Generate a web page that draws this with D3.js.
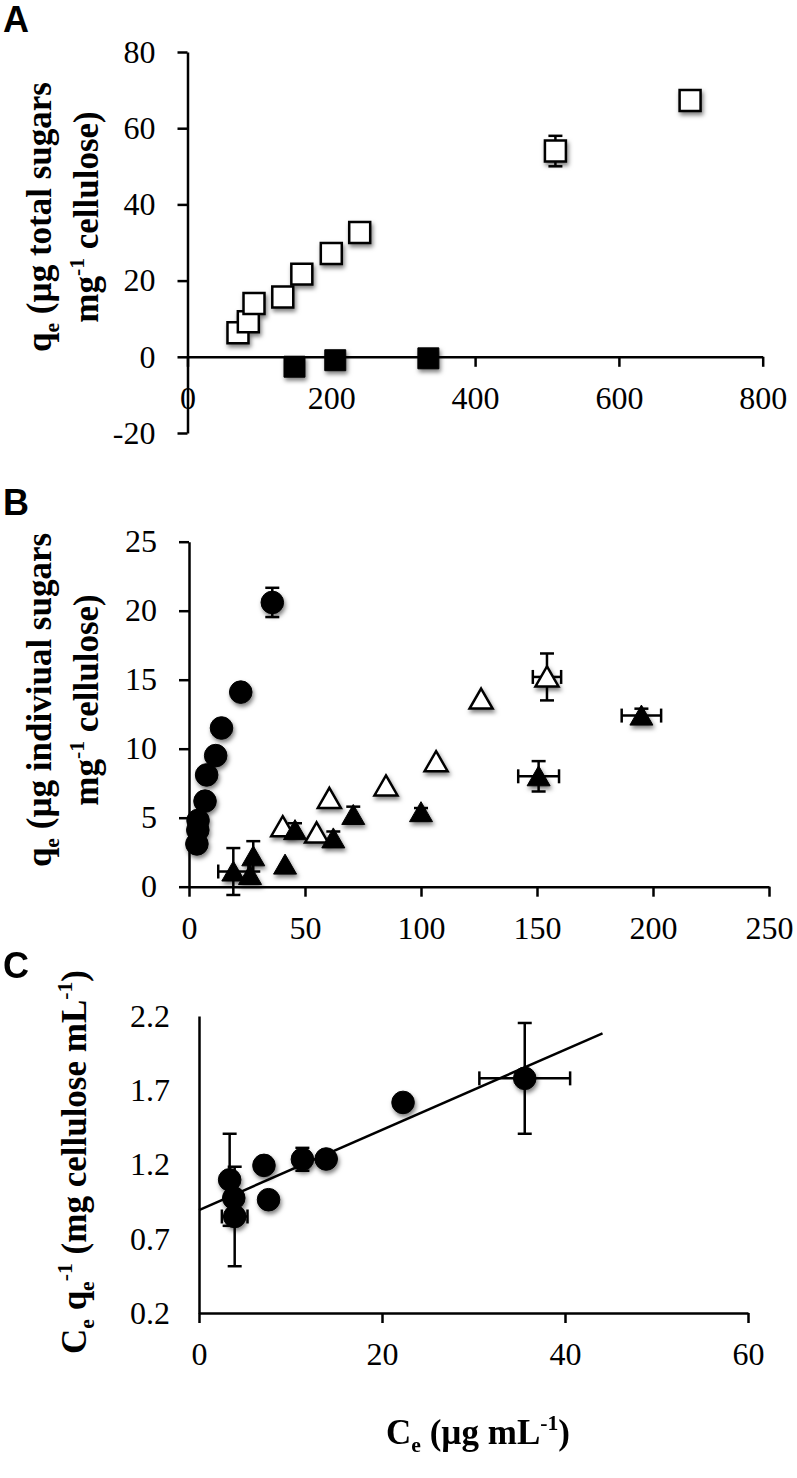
<!DOCTYPE html>
<html><head><meta charset="utf-8">
<script src="https://cdn.jsdelivr.net/npm/d3@7"></script>
<style>
html,body{margin:0;padding:0;background:#fff;}
svg{display:block;}
</style></head>
<body>
<svg id="chart" width="797" height="1478"></svg>
<script>
// ---------- DATA ----------
// Panel A: total sugars
const aOpenX   = [70.2, 84.6, 92.5, 132.5, 159, 200, 239.5, 511.7, 699];
const aOpenY   = [6.3, 9.2, 14.0, 15.7, 21.7, 27.1, 32.6, 54.0, 67.3];
const aOpenYErr= [0, 0, 0, 0, 0, 0, 0, 4.0, 0];
const aFillX   = [148.8, 205.5, 335];
const aFillY   = [-2.6, -0.9, -0.4];
const aXTicks  = [0, 200, 400, 600, 800];
const aYTicks  = [-20, 0, 20, 40, 60, 80];

// Panel B: individual sugars
const bCircX    = [3.4, 3.8, 3.9, 6.9, 7.6, 11.5, 14.0, 22.3, 35.9];
const bCircY    = [3.1, 4.1, 4.8, 6.2, 8.1, 9.5, 11.5, 14.1, 20.6];
const bCircYErr = [0, 0, 0, 0, 0, 0, 0, 0, 1.06];
const bOpenTriX    = [40.4, 55.0, 60.5, 84.9, 106.5, 125.9, 154.3];
const bOpenTriY    = [4.35, 3.9, 6.4, 7.3, 9.06, 13.6, 15.2];
const bOpenTriXErr = [0, 0, 0, 0, 0, 0, 6.1];
const bOpenTriYErr = [0, 0, 0, 0, 0, 0, 1.7];
const bFillTriX    = [19.1, 26.3, 27.7, 41.4, 45.7, 62.2, 70.8, 100, 150.7, 195];
const bFillTriY    = [1.1, 0.85, 2.2, 1.6, 4.1, 3.5, 5.2, 5.4, 8.0, 12.4];
const bFillTriXErr = [6.5, 0, 0, 0, 0, 0, 0, 0, 8.8, 8.5];
const bFillTriYErr = [1.7, 0, 1.1, 0, 0.5, 0.5, 0.6, 0.3, 1.1, 0.5];
const bXTicks = [0, 50, 100, 150, 200, 250];
const bYTicks = [0, 5, 10, 15, 20, 25];

// Panel C: linearised isotherm
const cX    = [3.35, 3.8, 3.9, 7.1, 7.6, 11.3, 13.9, 22.3, 35.6];
const cY    = [1.097, 0.974, 0.85, 1.194, 0.963, 1.235, 1.237, 1.618, 1.78];
const cYErr = [0.31, 0, 0.335, 0, 0, 0.077, 0, 0, 0.373];
const cXErr = [0, 0, 1.4, 0, 0, 0, 0, 0, 4.96];
const cFitIntercept = 0.893;
const cFitSlope = 0.027;
const cFitRange = [0, 44.1];
const cXTicks = [0, 20, 40, 60];
const cYTicks = [0.2, 0.7, 1.2, 1.7, 2.2];

// Text
const panelLetters = ["A", "B", "C"];
const aTitle1 = [["q",""],["e","sub"],[" (µg total sugars",""]];
const aTitle2 = [["mg",""],["-1","sup"],[" cellulose)",""]];
const bTitle1 = [["q",""],["e","sub"],[" (µg indiviual sugars",""]];
const bTitle2 = [["mg",""],["-1","sup"],[" cellulose)",""]];
const cYTitle = [["C",""],["e","sub"],[" q",""],["e","sub"],["-1","sup"],[" (mg cellulose mL",""],["-1","sup"],[")",""]];
const cXTitle = [["C",""],["e","sub"],[" (µg mL",""],["-1","sup"],[")",""]];

// ---------- DRAWING ----------
const SERIF = "'Liberation Serif','Times New Roman',Times,serif";
const SANS = "'Liberation Sans',Arial,Helvetica,sans-serif";
const TICK_FS = 32, TITLE_FS = 35, LETTER_FS = 36;
const SW = 2.5;

const svg = d3.select("#chart");
const defs = svg.append("defs");
const flt = defs.append("filter").attr("id","shadow")
  .attr("x","-60%").attr("y","-60%").attr("width","220%").attr("height","220%");
flt.append("feDropShadow").attr("dx",1.5).attr("dy",3).attr("stdDeviation",2)
  .attr("flood-color","#000").attr("flood-opacity",0.5);

function styleAxis(g){
  g.attr("font-size", null).attr("font-family", null);
  g.select(".domain").attr("stroke","#000").attr("stroke-width",SW);
  g.selectAll(".tick line").attr("stroke","#000").attr("stroke-width",SW);
  g.selectAll(".tick text").attr("font-family",SERIF).attr("font-size",TICK_FS).attr("fill","#000");
}

function addParts(t, parts, size){
  let cur = 0;
  parts.forEach(([txt, kind]) => {
    const target = kind === "sub" ? size*0.22 : kind === "sup" ? -size*0.40 : 0;
    const ts = t.append("tspan").attr("dy", target - cur).text(txt);
    if (kind) ts.attr("font-size", size*0.62);
    cur = target;
  });
}
function rotTitle(x, y, parts){
  const t = svg.append("text")
    .attr("transform", `translate(${x},${y}) rotate(-90)`)
    .attr("text-anchor","middle").attr("font-family",SERIF)
    .attr("font-weight","bold").attr("font-size",TITLE_FS).attr("fill","#000");
  addParts(t, parts, TITLE_FS);
}
function horTitle(x, y, parts){
  const t = svg.append("text").attr("x",x).attr("y",y)
    .attr("text-anchor","middle").attr("font-family",SERIF)
    .attr("font-weight","bold").attr("font-size",TITLE_FS).attr("fill","#000");
  addParts(t, parts, TITLE_FS);
}
function letter(x, y, s){
  svg.append("text").attr("x",x).attr("y",y).attr("font-family",SANS)
    .attr("font-weight","bold").attr("font-size",LETTER_FS).attr("fill","#000").text(s);
}

function errorBars(g, xs, ys, xe, ye, sx, sy){
  const cap = 7;
  const eg = g.append("g").attr("stroke","#000").attr("stroke-width",SW).attr("fill","none");
  xs.forEach((x, i) => {
    const px = sx(x), py = sy(ys[i]);
    if (ye && ye[i] > 0){
      const t = sy(ys[i] + ye[i]), b = sy(ys[i] - ye[i]);
      eg.append("line").attr("x1",px).attr("x2",px).attr("y1",t).attr("y2",b);
      eg.append("line").attr("x1",px-cap).attr("x2",px+cap).attr("y1",t).attr("y2",t);
      eg.append("line").attr("x1",px-cap).attr("x2",px+cap).attr("y1",b).attr("y2",b);
    }
    if (xe && xe[i] > 0){
      const l = sx(x - xe[i]), r = sx(x + xe[i]);
      eg.append("line").attr("x1",l).attr("x2",r).attr("y1",py).attr("y2",py);
      eg.append("line").attr("x1",l).attr("x2",l).attr("y1",py-cap).attr("y2",py+cap);
      eg.append("line").attr("x1",r).attr("x2",r).attr("y1",py-cap).attr("y2",py+cap);
    }
  });
}

const triPath = "M0,-10.5L11.5,9.5L-11.5,9.5Z";
function markers(g, xs, ys, sx, sy, shape, filled){
  const mg = g.append("g").attr("filter","url(#shadow)");
  const sel = mg.selectAll("path").data(xs.map((x,i)=>[x, ys[i]])).join("path")
    .attr("transform", d => `translate(${sx(d[0])},${sy(d[1])})`)
    .attr("fill", filled ? "#000" : "#fff")
    .attr("stroke", "#000").attr("stroke-width", filled ? 1 : SW);
  if (shape === "square") sel.attr("d", d3.symbol(d3.symbolSquare, 440)());
  else if (shape === "circle") sel.attr("d", d3.symbol(d3.symbolCircle, 400)());
  else sel.attr("d", triPath);
}

// ===== Panel A =====
{
  const sx = d3.scaleLinear().domain([0, 800]).range([187.5, 762.7]);
  const sy = d3.scaleLinear().domain([-20, 80]).range([433, 52]);
  const g = svg.append("g");
  g.append("g").attr("transform", `translate(${sx(0)},0)`)
    .call(d3.axisLeft(sy).tickValues(aYTicks).tickSizeInner(10).tickSizeOuter(0).tickPadding(22).tickFormat(d => String(d)))
    .call(styleAxis);
  g.append("g").attr("transform", `translate(0,${sy(0)})`)
    .call(d3.axisBottom(sx).tickValues(aXTicks).tickSizeInner(10).tickSizeOuter(0).tickPadding(19.6).tickFormat(d => String(d)))
    .call(styleAxis);
  errorBars(g, aOpenX, aOpenY, null, aOpenYErr, sx, sy);
  markers(g, aOpenX, aOpenY, sx, sy, "square", false);
  markers(g, aFillX, aFillY, sx, sy, "square", true);
  rotTitle(51, 217, aTitle1);
  rotTitle(97.5, 217, aTitle2);
  letter(3, 32, panelLetters[0]);
}

// ===== Panel B =====
{
  const sx = d3.scaleLinear().domain([0, 250]).range([189, 769]);
  const sy = d3.scaleLinear().domain([0, 25]).range([886.7, 541.7]);
  const g = svg.append("g");
  g.append("g").attr("transform", `translate(${sx(0)},0)`)
    .call(d3.axisLeft(sy).tickValues(bYTicks).tickSizeInner(10).tickSizeOuter(0).tickPadding(22).tickFormat(d => String(d)))
    .call(styleAxis);
  g.append("g").attr("transform", `translate(0,${sy(0)})`)
    .call(d3.axisBottom(sx).tickValues(bXTicks).tickSizeInner(10).tickSizeOuter(0).tickPadding(19.6).tickFormat(d => String(d)))
    .call(styleAxis);
  errorBars(g, bCircX, bCircY, null, bCircYErr, sx, sy);
  errorBars(g, bOpenTriX, bOpenTriY, bOpenTriXErr, bOpenTriYErr, sx, sy);
  errorBars(g, bFillTriX, bFillTriY, bFillTriXErr, bFillTriYErr, sx, sy);
  markers(g, bCircX, bCircY, sx, sy, "circle", true);
  markers(g, bOpenTriX, bOpenTriY, sx, sy, "tri", false);
  markers(g, bFillTriX, bFillTriY, sx, sy, "tri", true);
  rotTitle(51, 700, bTitle1);
  rotTitle(97.5, 700, bTitle2);
  letter(3, 515, panelLetters[1]);
}

// ===== Panel C =====
{
  const sx = d3.scaleLinear().domain([0, 60]).range([199, 748]);
  const sy = d3.scaleLinear().domain([0.2, 2.2]).range([1313, 1016]);
  const g = svg.append("g");
  g.append("g").attr("transform", `translate(${sx(0)},0)`)
    .call(d3.axisLeft(sy).tickValues(cYTicks).tickSizeInner(0).tickSizeOuter(0).tickPadding(29).tickFormat(d3.format(".1f")))
    .call(styleAxis);
  g.append("g").attr("transform", `translate(0,${sy(0.2)})`)
    .call(d3.axisBottom(sx).tickValues(cXTicks).tickSizeInner(10).tickSizeOuter(0).tickPadding(19.6).tickFormat(d => String(d)))
    .call(styleAxis);
  errorBars(g, cX, cY, cXErr, cYErr, sx, sy);
  const line = d3.line().x(d => sx(d)).y(d => sy(cFitIntercept + cFitSlope * d));
  g.append("path").datum(cFitRange).attr("d", line)
    .attr("fill","none").attr("stroke","#000").attr("stroke-width",SW);
  markers(g, cX, cY, sx, sy, "circle", true);
  rotTitle(86, 1162, cYTitle);
  horTitle(478, 1444, cXTitle);
  letter(3, 978, panelLetters[2]);
}
</script>
</body></html>
